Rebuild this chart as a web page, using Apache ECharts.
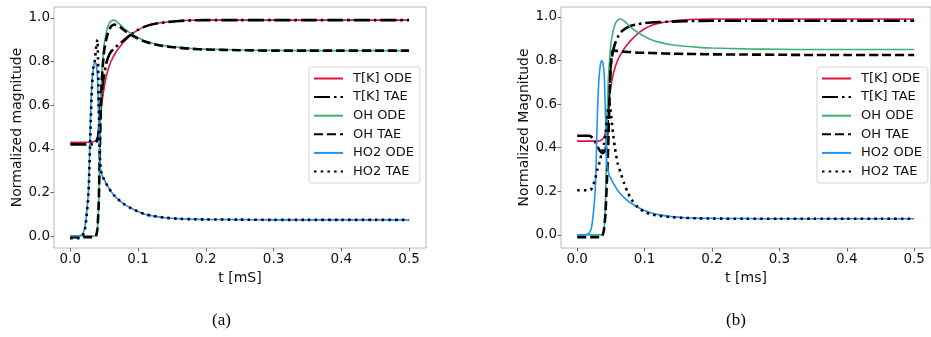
<!DOCTYPE html>
<html>
<head>
<meta charset="utf-8">
<script src="https://cdn.jsdelivr.net/npm/echarts@6/dist/echarts.min.js"></script>
<style>
  html, body { margin: 0; padding: 0; background: #fff; }
  #chart { width: 931px; height: 337px; }
</style>
</head>
<body>
<div id="chart"></div>
<script>
// time samples [ms], shared by every curve
const tSteps = [0, 0.01, 0.015, 0.018, 0.021, 0.024, 0.027, 0.03, 0.032, 0.034, 0.036, 0.038, 0.04, 0.042, 0.044, 0.046, 0.048, 0.05, 0.053, 0.056, 0.06, 0.065, 0.07, 0.075, 0.08, 0.09, 0.1, 0.11, 0.12, 0.14, 0.16, 0.18, 0.2, 0.25, 0.3, 0.35, 0.4, 0.45, 0.5];

// reference ODE solution (same in both panels)
const tkOde = [0.43, 0.43, 0.43, 0.43, 0.43, 0.43, 0.43, 0.43, 0.43, 0.432, 0.435, 0.44, 0.45, 0.47, 0.53, 0.59, 0.64, 0.68, 0.73, 0.765, 0.8, 0.83, 0.855, 0.875, 0.893, 0.923, 0.945, 0.96, 0.97, 0.98, 0.986, 0.989, 0.99, 0.99, 0.99, 0.99, 0.99, 0.99, 0.99];
const ohOde = [0, 0, 0, 0, 0, 0, 0, 0, 0, 0, 0, 0.005, 0.03, 0.15, 0.45, 0.7, 0.8, 0.875, 0.93, 0.965, 0.985, 0.99, 0.98, 0.965, 0.95, 0.928, 0.91, 0.895, 0.885, 0.872, 0.865, 0.86, 0.857, 0.853, 0.851, 0.85, 0.85, 0.85, 0.85];
const ho2Ode = [0, 0, 0.002, 0.01, 0.03, 0.1, 0.22, 0.55, 0.7, 0.77, 0.8, 0.79, 0.74, 0.55, 0.32, 0.29, 0.27, 0.26, 0.24, 0.225, 0.205, 0.185, 0.17, 0.156, 0.145, 0.127, 0.112, 0.1, 0.093, 0.084, 0.079, 0.077, 0.076, 0.075, 0.074, 0.074, 0.074, 0.074, 0.074];

// TAE, panel (a)
const tkTaeA = [0.42, 0.42, 0.42, 0.42, 0.42, 0.42, 0.42, 0.42, 0.42, 0.42, 0.425, 0.43, 0.44, 0.48, 0.56, 0.64, 0.7, 0.74, 0.79, 0.82, 0.845, 0.86, 0.875, 0.888, 0.9, 0.925, 0.945, 0.96, 0.97, 0.98, 0.986, 0.989, 0.99, 0.99, 0.99, 0.99, 0.99, 0.99, 0.99];
const ohTaeA = [-0.005, -0.005, -0.005, -0.005, -0.005, -0.005, -0.005, -0.005, -0.005, -0.005, -0.005, 0, 0.03, 0.15, 0.44, 0.68, 0.78, 0.85, 0.9, 0.935, 0.96, 0.97, 0.965, 0.955, 0.942, 0.922, 0.905, 0.892, 0.882, 0.87, 0.863, 0.858, 0.855, 0.852, 0.85, 0.85, 0.85, 0.85, 0.85];
const ho2TaeA = [-0.01, -0.01, -0.008, 0, 0.02, 0.09, 0.2, 0.5, 0.68, 0.77, 0.8, 0.86, 0.9, 0.6, 0.34, 0.29, 0.27, 0.26, 0.24, 0.225, 0.205, 0.185, 0.17, 0.156, 0.145, 0.127, 0.112, 0.1, 0.093, 0.084, 0.079, 0.077, 0.076, 0.075, 0.074, 0.074, 0.074, 0.074, 0.074];

// TAE, panel (b)
const tkTaeB = [0.455, 0.455, 0.455, 0.455, 0.45, 0.44, 0.425, 0.405, 0.395, 0.385, 0.378, 0.375, 0.38, 0.39, 0.43, 0.56, 0.7, 0.78, 0.84, 0.875, 0.905, 0.93, 0.943, 0.953, 0.959, 0.966, 0.971, 0.974, 0.976, 0.978, 0.98, 0.981, 0.982, 0.982, 0.982, 0.982, 0.982, 0.982, 0.982];
const ohTaeB = [-0.01, -0.01, -0.01, -0.01, -0.01, -0.01, -0.01, -0.01, -0.01, -0.01, -0.01, 0, 0.03, 0.1, 0.24, 0.4, 0.62, 0.78, 0.845, 0.845, 0.843, 0.842, 0.84, 0.839, 0.838, 0.836, 0.835, 0.834, 0.833, 0.831, 0.83, 0.829, 0.828, 0.827, 0.826, 0.825, 0.825, 0.825, 0.825];
const ho2TaeB = [0.205, 0.205, 0.205, 0.205, 0.21, 0.23, 0.26, 0.3, 0.32, 0.345, 0.37, 0.39, 0.42, 0.46, 0.52, 0.58, 0.6, 0.56, 0.47, 0.4, 0.33, 0.28, 0.235, 0.195, 0.165, 0.127, 0.106, 0.095, 0.088, 0.081, 0.078, 0.076, 0.075, 0.074, 0.074, 0.074, 0.074, 0.074, 0.074];

const xTicks = [0, 0.1, 0.2, 0.3, 0.4, 0.5];
const yTicks = [0, 0.2, 0.4, 0.6, 0.8, 1.0];
const legendNames = ['T[K] ODE', 'T[K] TAE', 'OH ODE', 'OH TAE', 'HO2 ODE', 'HO2 TAE'];

const chart = echarts.init(document.getElementById('chart'));

const FONT = 'DejaVu Sans';
const TXT = '#111';

function toPairs(arr) {
  return tSteps.map((t, i) => [t, arr[i]]);
}

function line(name, arr, idx, color, width, type) {
  return {
    name: name,
    type: 'line',
    xAxisIndex: idx,
    yAxisIndex: idx,
    data: toPairs(arr),
    symbol: 'none',
    smooth: 0.25,
    animation: false,
    lineStyle: { color: color, width: width, type: type },
    itemStyle: { color: color },
  };
}

function panelSeries(idx, tkTae, ohTae, ho2Tae) {
  return [
    line('T[K] ODE', tkOde, idx, '#dc143c', 1.6, 'solid'),
    line('T[K] TAE', tkTae, idx, '#000', 2.6, [16, 4, 2.5, 4]),
    line('OH ODE', ohOde, idx, '#3cb371', 1.6, 'solid'),
    line('OH TAE', ohTae, idx, '#000', 2.6, [9, 4]),
    line('HO2 ODE', ho2Ode, idx, '#1e90ff', 1.6, 'solid'),
    line('HO2 TAE', ho2Tae, idx, '#000', 2.6, [2.5, 4.2]),
  ];
}

function xAx(idx, name) {
  return {
    type: 'value',
    gridIndex: idx,
    min: -0.024,
    max: 0.525,
    name: name,
    nameLocation: 'middle',
    nameGap: 19,
    nameTextStyle: { fontFamily: FONT, fontSize: 14, color: TXT },
    axisLine: { show: false, onZero: false },
    splitLine: { show: false },
    axisTick: { show: true, customValues: xTicks, length: 3.5, lineStyle: { color: '#666' } },
    axisLabel: {
      customValues: xTicks, margin: 4, fontFamily: FONT, fontSize: 13.5, color: TXT,
      formatter: v => v.toFixed(1),
    },
  };
}

function yAx(idx, name, min, max) {
  return {
    type: 'value',
    gridIndex: idx,
    min: min,
    max: max,
    name: name,
    nameLocation: 'middle',
    nameRotate: 90,
    nameGap: 26,
    nameTextStyle: { fontFamily: FONT, fontSize: 14, color: TXT },
    axisLine: { show: false, onZero: false },
    splitLine: { show: false },
    axisTick: { show: true, customValues: yTicks, length: 3.5, lineStyle: { color: '#666' } },
    axisLabel: {
      customValues: yTicks, margin: 4, fontFamily: FONT, fontSize: 13.5, color: TXT,
      formatter: v => v.toFixed(1),
    },
  };
}

function legend(left) {
  return {
    data: legendNames,
    orient: 'vertical',
    left: left,
    top: 67,
    itemWidth: 29,
    itemHeight: 14,
    itemGap: 5.6,
    padding: [5, 6, 5, 4],
    backgroundColor: 'rgba(255,255,255,0.8)',
    borderColor: '#d4d4d4',
    borderWidth: 1,
    borderRadius: 3,
    selectedMode: false,
    // hide the marker circle, keep only the line sample
    itemStyle: { opacity: 0 },
    textStyle: { fontFamily: FONT, fontSize: 13, color: TXT, padding: [0, 0, 0, 5] },
  };
}

const option = {
  animation: false,
  backgroundColor: '#fff',
  grid: [
    { left: 54, top: 7, width: 372, height: 241, show: true, borderColor: '#b8b8b8', borderWidth: 1 },
    { left: 561, top: 7, width: 372, height: 241, show: true, borderColor: '#b8b8b8', borderWidth: 1 },
  ],
  xAxis: [xAx(0, 't [mS]'), xAx(1, 't [ms]')],
  yAxis: [
    yAx(0, 'Normalized magnitude', -0.055, 1.05),
    yAx(1, 'Normalized Magnitude', -0.06, 1.045),
  ],
  legend: [legend(309), legend(817)],
  graphic: [
    { type: 'text', left: 212, top: 312, style: { text: '(a)', font: '17px "Liberation Serif"', fill: '#000' } },
    { type: 'text', left: 726, top: 312, style: { text: '(b)', font: '17px "Liberation Serif"', fill: '#000' } },
  ],
  series: [
    ...panelSeries(0, tkTaeA, ohTaeA, ho2TaeA),
    ...panelSeries(1, tkTaeB, ohTaeB, ho2TaeB),
  ],
};

chart.setOption(option);
</script>
</body>
</html>
